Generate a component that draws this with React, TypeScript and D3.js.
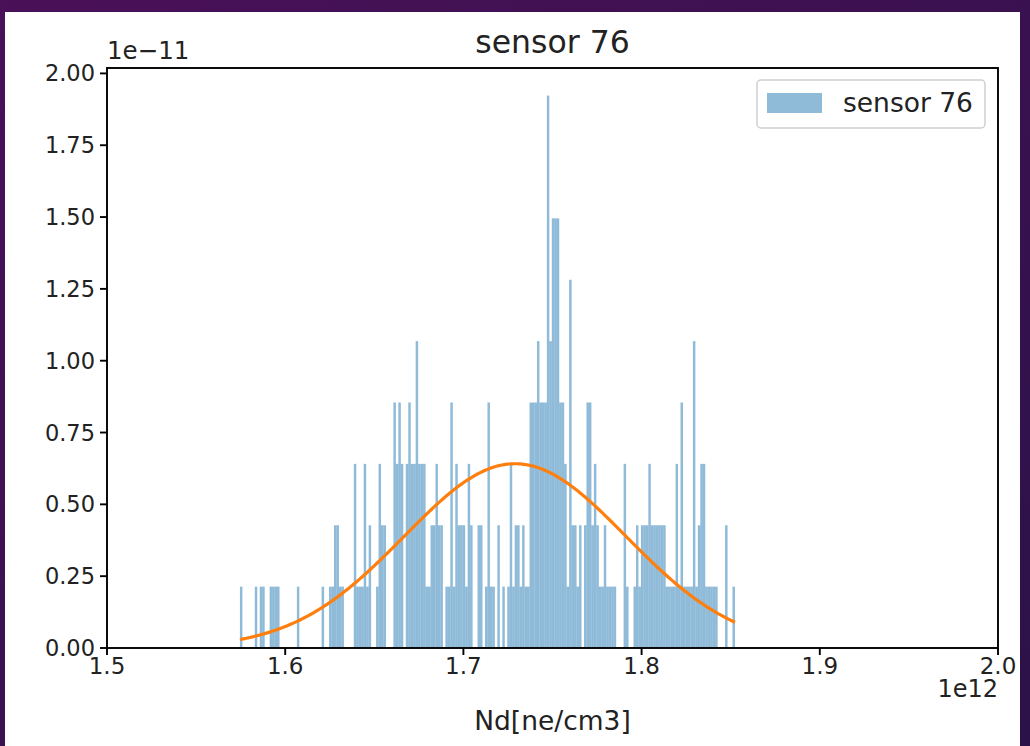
import React from 'react';
import * as d3 from 'd3';

const W = 1030;
const H = 746;

// histogram of the sensor readings, 200 equal bins between the data min and max
const DATA_MIN = 1.5746e12;
const DATA_MAX = 1.8524e12;
const SAMPLE_TOTAL = 337;
const binCounts = [
  1, 0, 0, 0, 0, 0, 1, 0, 1, 1, 0, 0, 1, 1, 1, 1, 0, 0, 0, 0,
  0, 0, 0, 1, 0, 0, 0, 0, 0, 0, 0, 0, 0, 1, 0, 0, 1, 1, 2, 2,
  1, 1, 0, 0, 0, 0, 3, 1, 1, 1, 3, 1, 2, 0, 0, 1, 3, 2, 2, 0,
  0, 0, 4, 3, 4, 3, 0, 3, 4, 3, 3, 5, 3, 3, 3, 1, 1, 2, 2, 3,
  2, 2, 0, 1, 1, 4, 1, 3, 2, 2, 2, 1, 3, 2, 0, 0, 2, 2, 0, 1,
  4, 1, 1, 0, 2, 0, 1, 0, 1, 3, 1, 2, 2, 1, 2, 1, 1, 4, 4, 4,
  5, 4, 4, 4, 9, 5, 7, 7, 7, 4, 4, 3, 1, 6, 2, 2, 1, 2, 0, 2,
  4, 4, 2, 3, 2, 1, 1, 2, 1, 1, 1, 1, 0, 0, 0, 3, 1, 0, 0, 1,
  2, 1, 2, 2, 2, 3, 2, 2, 2, 2, 2, 2, 1, 1, 1, 1, 3, 1, 4, 1,
  1, 1, 1, 5, 1, 2, 3, 3, 1, 1, 1, 1, 1, 0, 0, 0, 2, 0, 0, 1,
];

// normal fit drawn over the data range
const FIT_MEAN = 1.729e12;
const FIT_STD = 6.22e10;

const xTicks = [1.5e12, 1.6e12, 1.7e12, 1.8e12, 1.9e12, 2.0e12];
const xTickLabels = ['1.5', '1.6', '1.7', '1.8', '1.9', '2.0'];
const yTicks = [0, 0.25e-11, 0.5e-11, 0.75e-11, 1.0e-11, 1.25e-11, 1.5e-11, 1.75e-11, 2.0e-11];
const yTickLabels = ['0.00', '0.25', '0.50', '0.75', '1.00', '1.25', '1.50', '1.75', '2.00'];

const FONT = 'DejaVu Sans, sans-serif';

export default function App() {
  const left = 107, right = 998, top = 68, bottom = 648;
  const binWidth = (DATA_MAX - DATA_MIN) / binCounts.length;
  const density = binCounts.map(c => c / (SAMPLE_TOTAL * binWidth));
  const yMax = d3.max(density) * 1.05;

  const x = d3.scaleLinear().domain([1.5e12, 2.0e12]).range([left, right]);
  const y = d3.scaleLinear().domain([0, yMax]).range([bottom, top]);

  const pdf = (v: number) =>
    Math.exp(-0.5 * ((v - FIT_MEAN) / FIT_STD) ** 2) / (Math.sqrt(2 * Math.PI) * FIT_STD);
  const curveX = d3.range(0, 301).map(i => DATA_MIN + (i / 300) * (DATA_MAX - DATA_MIN));
  const line = d3.line<number>().x(d => x(d)).y(d => y(pdf(d)));

  return (
    <div style={{ position: 'absolute', left: 0, top: 0, width: W, height: H }}>
      <svg width={W} height={H} style={{ display: 'block' }}>
        <defs>
          <linearGradient id="bg" x1="0" y1="0" x2="1" y2="1">
            <stop offset="0" stopColor="#4a1058" />
            <stop offset="1" stopColor="#2b1248" />
          </linearGradient>
        </defs>
        <rect width={W} height={H} fill="url(#bg)" />
        <rect x={5} y={12} width={1015} height={H - 12} fill="#ffffff" />

        {/* bars */}
        <g fill="#1f77b4" fillOpacity={0.5}>
          {density.map((d, i) => {
            if (d <= 0) return null;
            const x0 = x(DATA_MIN + i * binWidth);
            const x1 = x(DATA_MIN + (i + 1) * binWidth);
            return <rect key={i} x={x0} y={y(d)} width={x1 - x0} height={bottom - y(d)} />;
          })}
        </g>

        {/* fitted curve */}
        <path d={line(curveX) || ''} fill="none" stroke="#ff7f0e" strokeWidth={3.2} />

        {/* frame */}
        <rect x={left} y={top} width={right - left} height={bottom - top} fill="none" stroke="#000" strokeWidth={1.9} />

        {/* x axis */}
        <g fontFamily={FONT} fill="#222">
          {xTicks.map((t, i) => (
            <g key={t}>
              <line x1={x(t)} x2={x(t)} y1={bottom} y2={bottom + 7} stroke="#000" strokeWidth={1.9} />
              <text x={x(t)} y={bottom + 26} fontSize={23} textAnchor="middle">{xTickLabels[i]}</text>
            </g>
          ))}
          <text x={right} y={697} fontSize={24} textAnchor="end">1e12</text>
          <text x={(left + right) / 2} y={730} fontSize={26.5} textAnchor="middle">Nd[ne/cm3]</text>
        </g>

        {/* y axis */}
        <g fontFamily={FONT} fontSize={22.5} fill="#222">
          {yTicks.map((t, i) => (
            <g key={t}>
              <line x1={left - 7} x2={left} y1={y(t)} y2={y(t)} stroke="#000" strokeWidth={1.9} />
              <text x={left - 12} y={y(t) + 8} textAnchor="end">{yTickLabels[i]}</text>
            </g>
          ))}
          <text x={left} y={59} fontSize={24.5} textAnchor="start">1e−11</text>
        </g>

        {/* title */}
        <text x={(left + right) / 2} y={53} textAnchor="middle" fontFamily={FONT} fontSize={31.5} fill="#222">
          sensor 76
        </text>

        {/* legend */}
        <g fontFamily={FONT}>
          <rect x={757} y={80} width={228} height={48} rx={4} fill="#fff" fillOpacity={0.8} stroke="#d0d0d0" strokeWidth={1.5} />
          <rect x={767} y={93} width={55} height={20} fill="#1f77b4" fillOpacity={0.5} />
          <text x={843} y={112} fontSize={26.5} fill="#222">sensor 76</text>
        </g>
      </svg>
    </div>
  );
}
